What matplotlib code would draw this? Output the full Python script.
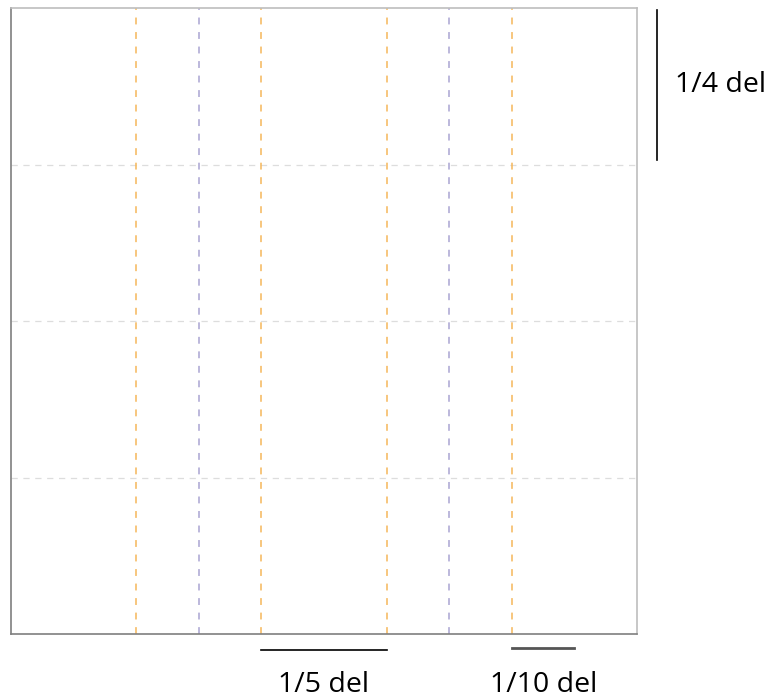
import matplotlib
matplotlib.use("Agg")
import matplotlib.pyplot as plt
from matplotlib.lines import Line2D

# Data: fractional positions of guide lines
fifths = [0.2, 0.4, 0.6, 0.8]          # orange vertical lines
tenths = [0.3, 0.7]                    # purple vertical lines
quarters = [0.25, 0.5, 0.75]           # gray horizontal lines
scale_labels = ["1/4 del", "1/5 del", "1/10 del"]
scale_lengths = [1/4, 1/5, 1/10]

plt.rcParams['font.family'] = ['Open Sans', 'DejaVu Sans']

fig = plt.figure(figsize=(7.74, 7.00), dpi=100)
W, H = 774, 700
ax = fig.add_axes([11/W, (H-634)/H, 626/W, 626/H])
ax.set_xlim(0, 1)
ax.set_ylim(0, 1)
ax.set_xticks([])
ax.set_yticks([])

ax.spines['top'].set_color('#bdbdbd')
ax.spines['right'].set_color('#bdbdbd')
ax.spines['left'].set_color('#7f7f7f')
ax.spines['bottom'].set_color('#7f7f7f')
for s in ax.spines.values():
    s.set_linewidth(1.2)

for y in quarters:
    ax.axhline(y, color='#dddddd', lw=0.9, dashes=(5, 4.5))
for x in fifths:
    ax.axvline(x, color='#f5b75a', lw=1.1, dashes=(4.5, 5))
for x in tenths:
    ax.axvline(x, color='#aaa4d2', lw=1.1, dashes=(4.5, 5))

# scale bars
top = 0.997
ax.add_line(Line2D([1.032, 1.032], [top, top - scale_lengths[0] * 0.96],
                   color='black', lw=1.2, clip_on=False))
ax.text(1.0607, 0.866, scale_labels[0], fontsize=20.5, ha='left', va='baseline',
        transform=ax.transAxes, clip_on=False)

x0 = 0.4
ax.add_line(Line2D([x0, x0 + scale_lengths[1]], [-0.0256, -0.0256],
                   color='black', lw=1.2, clip_on=False))
ax.text(x0 + scale_lengths[1] / 2, -0.0927, scale_labels[1], fontsize=20.5,
        ha='center', va='baseline', transform=ax.transAxes, clip_on=False)

x1 = 0.8
ax.add_line(Line2D([x1, x1 + scale_lengths[2]], [-0.0225, -0.0225],
                   color='#555555', lw=2.0, clip_on=False))
ax.text(0.851, -0.0927, scale_labels[2], fontsize=20.5,
        ha='center', va='baseline', transform=ax.transAxes, clip_on=False)

fig.savefig("out.png", dpi=100)
